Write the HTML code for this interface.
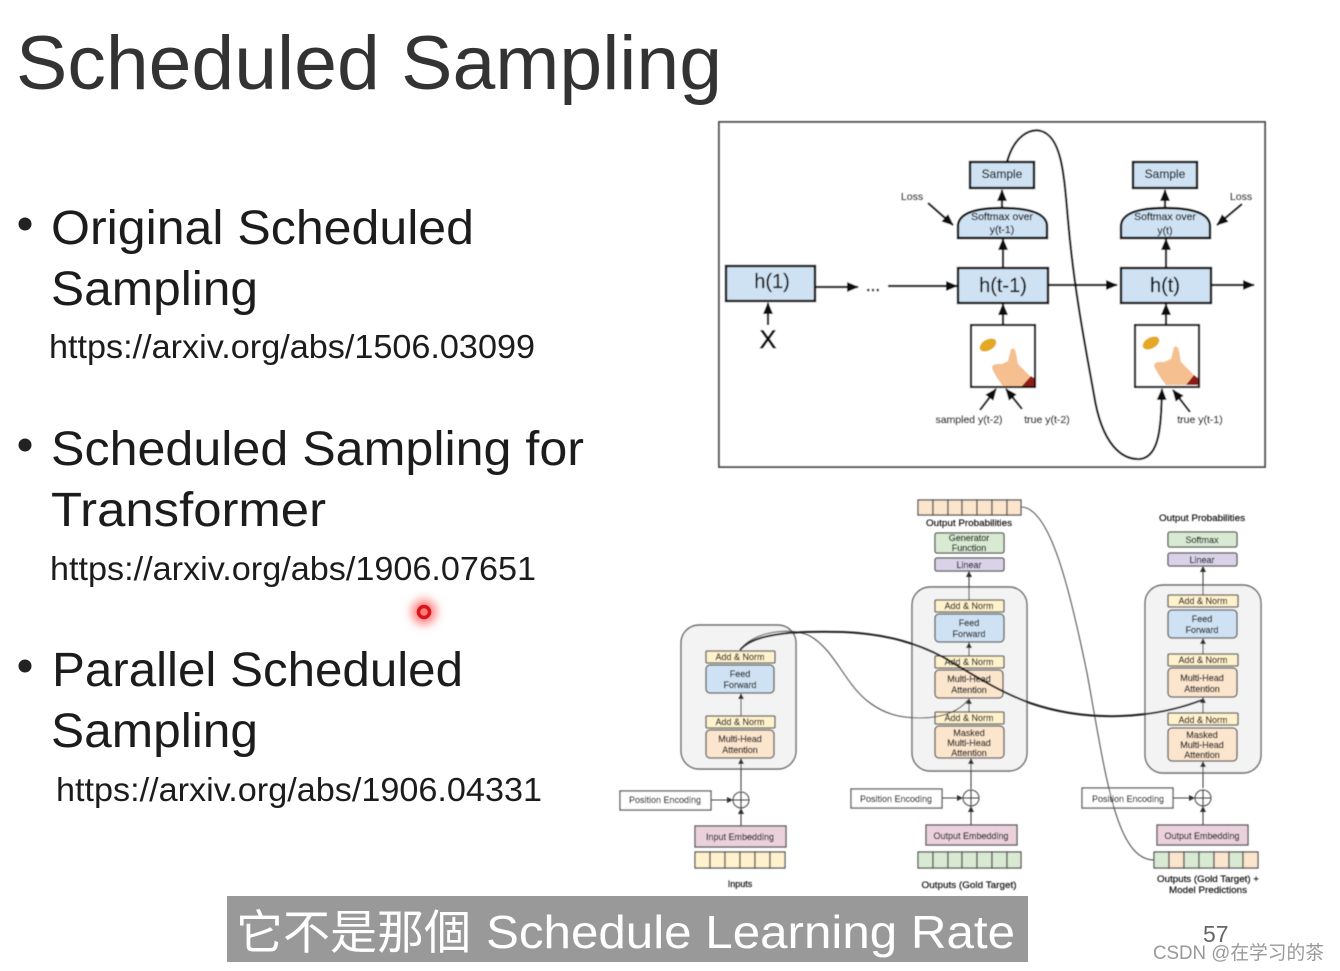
<!DOCTYPE html>
<html><head><meta charset="utf-8"><style>
html,body{margin:0;padding:0;background:#fff;width:1340px;height:971px;overflow:hidden}
svg{display:block}
text{font-family:"Liberation Sans","Noto Sans CJK TC",sans-serif}
.t{fill:#1c1c1c}
.m{fill:#111;stroke:#111;stroke-width:.25}
.n{font-size:9px;fill:#111;stroke:#222;stroke-width:.2;text-anchor:middle}
.b{stroke:#555;stroke-width:1.3}
.y{fill:#fff2cc}.o{fill:#fce5cd}.u{fill:#cfe2f3}.g{fill:#d9ead3}.p{fill:#d9d2e9}.k{fill:#ead1dc}.w{fill:#fff}
.l{stroke:#444;stroke-width:1.1;fill:none}
.d{stroke:#111;stroke-width:2.2;fill:none}
.bx{fill:#cfe2f3;stroke:#111;stroke-width:2.4}
</style></head><body>
<svg width="1340" height="971" viewBox="0 0 1340 971" xmlns="http://www.w3.org/2000/svg">
<defs>
<marker id="a" markerWidth="12" markerHeight="10" refX="11" refY="5" orient="auto" markerUnits="userSpaceOnUse"><path d="M0 0L12 5L0 10Z" fill="#111"/></marker>
<marker id="s" markerWidth="6" markerHeight="6" refX="5" refY="3" orient="auto" markerUnits="userSpaceOnUse"><path d="M0 0L6 3L0 6Z" fill="#333"/></marker>
<filter id="bl"><feGaussianBlur stdDeviation="0.45"/></filter>
<filter id="gl" x="-100%" y="-100%" width="300%" height="300%"><feGaussianBlur stdDeviation="5"/></filter>
</defs>

<text x="16" y="89" font-size="76" fill="#333" textLength="706" lengthAdjust="spacingAndGlyphs">Scheduled Sampling</text>
<circle cx="25" cy="224" r="6.5" fill="#222"/>
<text class="t" x="51" y="244" font-size="48" textLength="423" lengthAdjust="spacingAndGlyphs">Original Scheduled</text>
<text class="t" x="51" y="305" font-size="48" textLength="207" lengthAdjust="spacingAndGlyphs">Sampling</text>
<text class="t" x="49" y="358" font-size="33" textLength="486" lengthAdjust="spacingAndGlyphs">https://arxiv.org/abs/1506.03099</text>
<circle cx="25" cy="445" r="6.5" fill="#222"/>
<text class="t" x="51" y="465" font-size="48" textLength="533" lengthAdjust="spacingAndGlyphs">Scheduled Sampling for</text>
<text class="t" x="51" y="526" font-size="48" textLength="275" lengthAdjust="spacingAndGlyphs">Transformer</text>
<text class="t" x="50" y="580" font-size="33" textLength="486" lengthAdjust="spacingAndGlyphs">https://arxiv.org/abs/1906.07651</text>
<circle cx="25" cy="666" r="6.5" fill="#222"/>
<text class="t" x="52" y="686" font-size="48" textLength="411" lengthAdjust="spacingAndGlyphs">Parallel Scheduled</text>
<text class="t" x="51" y="747" font-size="48" textLength="207" lengthAdjust="spacingAndGlyphs">Sampling</text>
<text class="t" x="56" y="801" font-size="33" textLength="486" lengthAdjust="spacingAndGlyphs">https://arxiv.org/abs/1906.04331</text>

<circle cx="424" cy="612" r="12" fill="#f44" opacity=".75" filter="url(#gl)"/>
<circle cx="424" cy="612" r="5.5" fill="none" stroke="#d8141c" stroke-width="3.5"/>

<g filter="url(#bl)">
<rect x="719" y="122" width="546" height="345" fill="#fff" stroke="#555" stroke-width="2"/>
<rect class="bx" x="726" y="266" width="89" height="35"/>
<rect class="bx" x="958" y="268" width="90" height="35"/>
<rect class="bx" x="1121" y="268" width="90" height="35"/>
<rect class="bx" x="970" y="162" width="64" height="26"/>
<rect class="bx" x="1133" y="162" width="64" height="26"/>
<path class="bx" d="M958 238V225Q960 208 1002 208Q1045 208 1047 225V238Z"/>
<path class="bx" d="M1121 238V225Q1123 208 1165 208Q1208 208 1210 225V238Z"/>
<text x="772" y="288" font-size="20" text-anchor="middle" class="m">h(1)</text>
<text x="1003" y="292" font-size="20" text-anchor="middle" class="m">h(t-1)</text>
<text x="1165" y="292" font-size="20" text-anchor="middle" class="m">h(t)</text>
<text x="1002" y="178" font-size="12" text-anchor="middle" class="m">Sample</text>
<text x="1165" y="178" font-size="12" text-anchor="middle" class="m">Sample</text>
<text x="1002" y="220" font-size="10.5" text-anchor="middle" class="m">Softmax over</text>
<text x="1002" y="233" font-size="10.5" text-anchor="middle" class="m">y(t-1)</text>
<text x="1165" y="220" font-size="10.5" text-anchor="middle" class="m">Softmax over</text>
<text x="1165" y="234" font-size="10.5" text-anchor="middle" class="m">y(t)</text>
<text x="912" y="200" font-size="10.5" text-anchor="middle" class="m">Loss</text>
<text x="1241" y="200" font-size="10.5" text-anchor="middle" class="m">Loss</text>
<text x="768" y="348" font-size="25" text-anchor="middle" class="m" style="stroke-width:.8">X</text>
<text x="873" y="291" font-size="17" text-anchor="middle" class="m" style="stroke-width:.6">...</text>
<text x="969" y="423" font-size="10.5" text-anchor="middle" class="m">sampled y(t-2)</text>
<text x="1047" y="423" font-size="10.5" text-anchor="middle" class="m">true y(t-2)</text>
<text x="1200" y="423" font-size="10.5" text-anchor="middle" class="m">true y(t-1)</text>

<rect x="971" y="325" width="64" height="62" fill="#fff" stroke="#111" stroke-width="2.2"/>
<rect x="1135" y="325" width="64" height="62" fill="#fff" stroke="#111" stroke-width="2.2"/>
<ellipse cx="988" cy="345" rx="9" ry="5.5" transform="rotate(-30 988 345)" fill="#e4a820"/>
<ellipse cx="1151" cy="343" rx="9" ry="5.5" transform="rotate(-30 1151 343)" fill="#e4a820"/>
<path d="M992 368Q992 363 1002 364L1008 361L1011 349Q1015 347 1016 353L1018 364L1032 378L1028 386H1003Q995 376 992 368Z" fill="#f6bf90"/>
<path d="M1154 366Q1154 361 1164 362L1171 359L1174 347Q1178 345 1179 351L1181 362L1195 376L1191 385H1166Q1158 375 1154 366Z" fill="#f6bf90"/>
<path d="M1034 386H1022L1031 376L1034 378Z" fill="#8e1a14"/>
<path d="M1198 385H1186L1194 375L1198 378Z" fill="#8e1a14"/>

<path class="d" d="M815 287H858" marker-end="url(#a)"/>
<path class="d" d="M888 286H957" marker-end="url(#a)"/>
<path class="d" d="M1048 285H1117" marker-end="url(#a)"/>
<path class="d" d="M1211 285H1254" marker-end="url(#a)"/>
<path class="d" d="M768 325V303" marker-end="url(#a)"/>
<path class="d" d="M1003 325V304" marker-end="url(#a)"/>
<path class="d" d="M1166 325V304" marker-end="url(#a)"/>
<path class="d" d="M1003 268V239" marker-end="url(#a)"/>
<path class="d" d="M1166 268V239" marker-end="url(#a)"/>
<path class="d" d="M1002 208V190" marker-end="url(#a)"/>
<path class="d" d="M1165 208V190" marker-end="url(#a)"/>
<path class="d" d="M928 203L953 225" marker-end="url(#a)"/>
<path class="d" d="M1242 204L1217 225" marker-end="url(#a)"/>
<path class="d" d="M980 410L996 389" marker-end="url(#a)"/>
<path class="d" d="M1022 409L1006 389" marker-end="url(#a)"/>
<path class="d" d="M1190 412L1173 390" marker-end="url(#a)"/>
<path class="d" d="M1007 162C1014 136 1030 128 1041 131C1062 137 1064 175 1068 220C1074 290 1086 350 1094 395C1102 445 1122 460 1140 459C1160 457 1161 425 1162 389" marker-end="url(#a)"/>

<!-- left encoder -->
<rect x="681" y="625" width="115" height="144" rx="18" fill="#f3f3f3" stroke="#666" stroke-width="1.4"/>
<path class="l" d="M741 791V759" marker-end="url(#s)"/>
<path class="l" d="M741 716V694" marker-end="url(#s)"/>
<path class="l" d="M741 826V809" marker-end="url(#s)"/>
<path class="l" d="M711 800H732" marker-end="url(#s)"/>
<rect class="b y" x="706" y="651" width="69" height="12" rx="1"/><text class="n" x="740" y="660">Add &amp; Norm</text>
<rect class="b u" x="706" y="665" width="68" height="28" rx="4"/><text class="n" x="740" y="677">Feed</text><text class="n" x="740" y="688">Forward</text>
<rect class="b y" x="706" y="716" width="69" height="12" rx="1"/><text class="n" x="740" y="725">Add &amp; Norm</text>
<rect class="b o" x="706" y="730" width="68" height="28" rx="4"/><text class="n" x="740" y="742">Multi-Head</text><text class="n" x="740" y="753">Attention</text>
<rect class="b w" x="620" y="791" width="91" height="19"/><text class="n" x="665" y="803">Position Encoding</text>
<circle cx="741" cy="800" r="8" fill="none" stroke="#444"/><path class="l" d="M733 800H749M741 792V808"/>
<rect class="b k" x="695" y="826" width="91" height="21"/><text class="n" x="740" y="840">Input Embedding</text>
<rect class="b y" x="695" y="852" width="15" height="16"/><rect class="b y" x="710" y="852" width="15" height="16"/><rect class="b y" x="725" y="852" width="15" height="16"/><rect class="b y" x="740" y="852" width="15" height="16"/><rect class="b y" x="755" y="852" width="15" height="16"/><rect class="b y" x="770" y="852" width="15" height="16"/>
<text class="n" x="740" y="887">Inputs</text>

<!-- middle decoder -->
<rect x="912" y="587" width="115" height="184" rx="18" fill="#f3f3f3" stroke="#666" stroke-width="1.4"/>
<path class="l" d="M969 600V572" marker-end="url(#s)"/>
<path class="l" d="M969 656V643" marker-end="url(#s)"/>
<path class="l" d="M969 712V699" marker-end="url(#s)"/>
<path class="l" d="M971 789V759" marker-end="url(#s)"/>
<path class="l" d="M971 825V807" marker-end="url(#s)"/>
<path class="l" d="M942 798H962" marker-end="url(#s)"/>
<rect class="b o" x="918" y="500" width="15" height="15"/><rect class="b o" x="933" y="500" width="15" height="15"/><rect class="b o" x="948" y="500" width="14" height="15"/><rect class="b o" x="962" y="500" width="15" height="15"/><rect class="b o" x="977" y="500" width="15" height="15"/><rect class="b o" x="992" y="500" width="15" height="15"/><rect class="b o" x="1007" y="500" width="14" height="15"/>
<text class="n" x="969" y="526" textLength="86" lengthAdjust="spacingAndGlyphs">Output Probabilities</text>
<rect class="b g" x="935" y="533" width="69" height="20" rx="2"/><text class="n" x="969" y="541">Generator</text><text class="n" x="969" y="551">Function</text>
<rect class="b p" x="935" y="558" width="69" height="13" rx="2"/><text class="n" x="969" y="568">Linear</text>
<rect class="b y" x="935" y="600" width="69" height="12" rx="1"/><text class="n" x="969" y="609">Add &amp; Norm</text>
<rect class="b u" x="935" y="614" width="69" height="28" rx="4"/><text class="n" x="969" y="626">Feed</text><text class="n" x="969" y="637">Forward</text>
<rect class="b y" x="935" y="656" width="69" height="12" rx="1"/><text class="n" x="969" y="665">Add &amp; Norm</text>
<rect class="b o" x="935" y="670" width="68" height="28" rx="4"/><text class="n" x="969" y="682">Multi-Head</text><text class="n" x="969" y="693">Attention</text>
<rect class="b y" x="935" y="712" width="69" height="12" rx="1"/><text class="n" x="969" y="721">Add &amp; Norm</text>
<rect class="b o" x="935" y="726" width="69" height="32" rx="4"/><text class="n" x="969" y="736">Masked</text><text class="n" x="969" y="746">Multi-Head</text><text class="n" x="969" y="756">Attention</text>
<rect class="b w" x="851" y="789" width="91" height="19"/><text class="n" x="896" y="802">Position Encoding</text>
<circle cx="971" cy="798" r="8" fill="none" stroke="#444"/><path class="l" d="M963 798H979M971 790V806"/>
<rect class="b k" x="926" y="825" width="91" height="20"/><text class="n" x="971" y="839">Output Embedding</text>
<rect class="b g" x="918" y="852" width="15" height="16"/><rect class="b g" x="933" y="852" width="15" height="16"/><rect class="b g" x="948" y="852" width="14" height="16"/><rect class="b g" x="962" y="852" width="15" height="16"/><rect class="b g" x="977" y="852" width="15" height="16"/><rect class="b g" x="992" y="852" width="15" height="16"/><rect class="b g" x="1007" y="852" width="14" height="16"/>
<text class="n" x="969" y="888" textLength="95" lengthAdjust="spacingAndGlyphs">Outputs (Gold Target)</text>

<!-- right decoder -->
<rect x="1145" y="585" width="116" height="188" rx="18" fill="#f3f3f3" stroke="#666" stroke-width="1.4"/>
<path class="l" d="M1203 595V567" marker-end="url(#s)"/>
<path class="l" d="M1203 654V639" marker-end="url(#s)"/>
<path class="l" d="M1203 713V698" marker-end="url(#s)"/>
<path class="l" d="M1203 788V762" marker-end="url(#s)"/>
<path class="l" d="M1203 825V807" marker-end="url(#s)"/>
<path class="l" d="M1173 798H1194" marker-end="url(#s)"/>
<text class="n" x="1202" y="521" textLength="86" lengthAdjust="spacingAndGlyphs">Output Probabilities</text>
<rect class="b g" x="1168" y="532" width="69" height="15" rx="2"/><text class="n" x="1202" y="543">Softmax</text>
<rect class="b p" x="1168" y="553" width="69" height="13" rx="2"/><text class="n" x="1202" y="563">Linear</text>
<rect class="b y" x="1168" y="595" width="70" height="12" rx="1"/><text class="n" x="1203" y="604">Add &amp; Norm</text>
<rect class="b u" x="1168" y="610" width="69" height="28" rx="4"/><text class="n" x="1202" y="622">Feed</text><text class="n" x="1202" y="633">Forward</text>
<rect class="b y" x="1168" y="654" width="70" height="12" rx="1"/><text class="n" x="1203" y="663">Add &amp; Norm</text>
<rect class="b o" x="1168" y="668" width="69" height="29" rx="4"/><text class="n" x="1202" y="681">Multi-Head</text><text class="n" x="1202" y="692">Attention</text>
<rect class="b y" x="1168" y="713" width="70" height="12" rx="1"/><text class="n" x="1203" y="723">Add &amp; Norm</text>
<rect class="b o" x="1168" y="728" width="69" height="33" rx="4"/><text class="n" x="1202" y="738">Masked</text><text class="n" x="1202" y="748">Multi-Head</text><text class="n" x="1202" y="758">Attention</text>
<rect class="b w" x="1082" y="788" width="91" height="20"/><text class="n" x="1128" y="802">Position Encoding</text>
<circle cx="1203" cy="798" r="8" fill="none" stroke="#444"/><path class="l" d="M1195 798H1211M1203 790V806"/>
<rect class="b k" x="1157" y="825" width="91" height="20"/><text class="n" x="1202" y="839">Output Embedding</text>
<rect class="b g" x="1154" y="852" width="15" height="16"/><rect class="b o" x="1169" y="852" width="15" height="16"/><rect class="b g" x="1184" y="852" width="15" height="16"/><rect class="b g" x="1199" y="852" width="15" height="16"/><rect class="b o" x="1214" y="852" width="15" height="16"/><rect class="b g" x="1229" y="852" width="14" height="16"/><rect class="b o" x="1243" y="852" width="15" height="16"/>
<text class="n" x="1208" y="882" textLength="102" lengthAdjust="spacingAndGlyphs">Outputs (Gold Target) +</text>
<text class="n" x="1208" y="893" textLength="78" lengthAdjust="spacingAndGlyphs">Model Predictions</text>

<!-- connecting curves -->
<path d="M740 650C752 632 790 626 810 636C835 650 845 685 870 703C885 714 900 718 920 718C945 718 960 710 968 700" fill="none" stroke="#555" stroke-width="1.1"/>
<path d="M1021 507C1050 507 1070 590 1087 673C1105 770 1115 860 1154 860" fill="none" stroke="#555" stroke-width="1.1"/>
<path d="M740 650C755 632 800 631 843 632C890 634 920 645 943 657C975 676 1000 692 1030 703C1085 722 1150 720 1202 700" fill="none" stroke="#222" stroke-width="2"/>
</g>

<rect x="227" y="896" width="801" height="66" fill="#999"/>
<text x="236" y="949" font-size="47" fill="#fff" style="font-family:'Noto Sans CJK TC',sans-serif;font-weight:400">它不是那個</text>
<text x="486" y="948" font-size="46" fill="#fff" textLength="529" lengthAdjust="spacingAndGlyphs">Schedule Learning Rate</text>
<text x="1203" y="942" font-size="23" fill="#666">57</text>
<text x="1153" y="959" font-size="19" fill="#999" textLength="171" lengthAdjust="spacingAndGlyphs" style="font-family:'Liberation Sans','Noto Sans CJK SC',sans-serif">CSDN @在学习的茶</text>
</svg>
</body></html>
